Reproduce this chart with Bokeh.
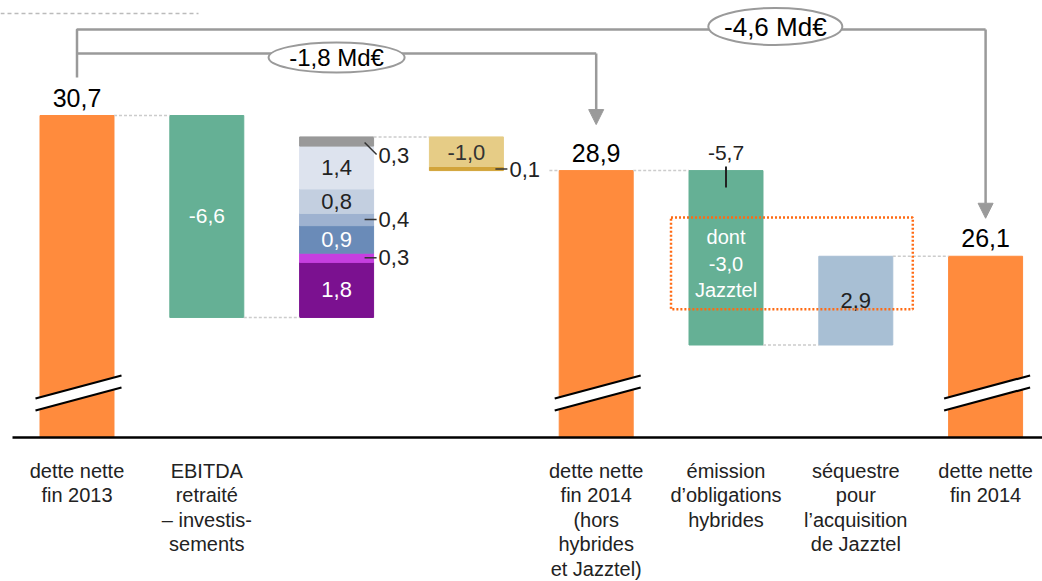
from bokeh.plotting import figure
from bokeh.models import Range1d, Arrow, NormalHead
from bokeh.core.properties import value
from bokeh.embed import file_html
from bokeh.resources import INLINE

# ---------------- data ----------------
categories = [
    "dette nette\nfin 2013",
    "EBITDA\nretraité\n– investis-\nsements",
    "",
    "",
    "dette nette\nfin 2014\n(hors\nhybrides\net Jazztel)",
    "émission\nd’obligations\nhybrides",
    "séquestre\npour\nl’acquisition\nde Jazztel",
    "dette nette\nfin 2014",
]
debt_2013 = 30.7
ebitda_capex = -6.6
other_items = [1.8, 0.3, 0.9, 0.4, 0.8, 1.4, 0.3]          # stacked, bottom to top
misc_items = [-1.0, -0.1]
debt_2014_excl = 28.9
hybrid_issue = -5.7
jazztel_part = -3.0
escrow = 2.9
debt_2014 = 26.1
bridge_changes = [-1.8, -4.6]

# ---------------- style ----------------
FONT = value("Liberation Sans")
ORANGE = "#FF8B3D"
GREEN = "#65B095"
STACK_COLORS = ["#7B1190", "#C63FE0", "#6A8BB8", "#9EB2D0", "#C3CFE0", "#DDE3EE", "#999999"]
STACK_TEXT = ["white", None, "white", None, "#222222", "#222222", None]
YELLOW = "#E6CC86"
GOLD = "#D2A43A"
BLUE = "#A8BFD4"
GRAY = "#9A9A9A"
DOT = "#CCCCCC"
W = 0.57

PXX, PXY = 129.8, 30.6
def dx(px): return px / PXX
def dy(px): return px / PXY

X0 = -76.5 / PXX
Y_TOP = debt_2013 + dy(115)
BASE = debt_2013 - dy(322)

def fmt(v):
    return f"{v:.1f}".replace(".", ",")

p = figure(width=1042, height=581, output_backend="svg", toolbar_location=None,
           x_range=Range1d(X0, X0 + dx(1042)), y_range=Range1d(Y_TOP - dy(581), Y_TOP),
           min_border=0, outline_line_color=None)
p.axis.visible = False
p.grid.visible = False

def txt(x, y, t, size, color="#222222", align="center"):
    p.text(x=[x], y=[y], text=[t], text_font=FONT, text_font_size=f"{size}px",
           text_color=color, text_align=align, text_baseline="middle")

# ---------------- bars ----------------
tot_x = [0, 4, 7]
tot_v = [debt_2013, debt_2014_excl, debt_2014]
p.vbar(x=tot_x, width=W, top=tot_v, bottom=BASE, color=ORANGE)

ebitda_bottom = round(debt_2013 + ebitda_capex, 2)
p.vbar(x=[1], width=W, top=[debt_2013], bottom=[ebitda_bottom], color=GREEN)

stack_b, stack_t = [], []
lvl = ebitda_bottom
for v in other_items:
    stack_b.append(lvl)
    lvl = round(lvl + v, 2)
    stack_t.append(lvl)
p.vbar(x=[2] * len(other_items), width=W, top=stack_t, bottom=stack_b, color=STACK_COLORS)
stack_top = lvl

misc_levels = [stack_top]
for v in misc_items:
    misc_levels.append(round(misc_levels[-1] + v, 2))
p.vbar(x=[3, 3], width=W, top=misc_levels[:-1], bottom=misc_levels[1:], color=[YELLOW, GOLD])

hyb_bottom = round(debt_2014_excl + hybrid_issue, 2)
p.vbar(x=[5], width=W, top=[debt_2014_excl], bottom=[hyb_bottom], color=GREEN)
p.vbar(x=[6], width=W, top=[round(hyb_bottom + escrow, 2)], bottom=[hyb_bottom], color=BLUE)

# axis break marks
for x in tot_x:
    xl, xr = x - dx(41.5), x + dx(44.5)
    ul, ur, ll, lr = BASE + dy(39), BASE + dy(62), BASE + dy(27), BASE + dy(50)
    p.patch(x=[xl, xr, xr, xl], y=[ul, ur, lr, ll], fill_color="white", line_color=None)
    p.line(x=[xl, xr], y=[ul, ur], line_color="black", line_width=2.2)
    p.line(x=[xl, xr], y=[ll, lr], line_color="black", line_width=2.2)

# baseline
p.line(x=[X0 + dx(12), X0 + dx(1042)], y=[BASE, BASE], line_color="black", line_width=2.5)

# connectors
conns = [
    (0 + W / 2, 1 - W / 2, debt_2013),
    (1 + W / 2, 2 - W / 2, ebitda_bottom),
    (2 + W / 2, 3 - W / 2, stack_top),
    (3 + W / 2 + dx(46), 4 - W / 2, debt_2014_excl),
    (4 + W / 2, 5 - W / 2, debt_2014_excl),
    (5 + W / 2, 6 - W / 2, hyb_bottom),
    (6 + W / 2, 7 - W / 2, debt_2014),
]
for a, b, y in conns:
    p.line(x=[a, b], y=[y, y], line_color=DOT, line_width=1.5, line_dash="3 2")

# ---------------- labels ----------------
for x, v in zip(tot_x, tot_v):
    txt(x, v + dy(18), fmt(v), 25, "black")

txt(1, (debt_2013 + ebitda_bottom) / 2, fmt(ebitda_capex), 21, "white")

xr2 = 2 + W / 2
for v, b, t, c in zip(other_items, stack_b, stack_t, STACK_TEXT):
    mid = (b + t) / 2
    if c is not None:
        txt(2, mid, fmt(v), 22, c)
for i in (1, 3):
    mid = (stack_b[i] + stack_t[i]) / 2
    p.line(x=[xr2 - dx(9), xr2 + dx(3)], y=[mid, mid], line_color="#333333", line_width=1.5)
    txt(xr2 + dx(5), mid, fmt(other_items[i]), 22, "#222222", "left")
mid = (stack_b[6] + stack_t[6]) / 2
p.line(x=[xr2 - dx(9), xr2 + dx(3)], y=[mid - dy(1), mid - dy(13)], line_color="#333333", line_width=1.5)
txt(xr2 + dx(5), mid - dy(14), fmt(other_items[6]), 22, "#222222", "left")

txt(3, (misc_levels[0] + misc_levels[1]) / 2, fmt(misc_items[0]), 22, "#333333")
xr3 = 3 + W / 2
m01 = (misc_levels[1] + misc_levels[2]) / 2
p.line(x=[xr3 - dx(8), xr3 + dx(4)], y=[m01, m01], line_color="#333333", line_width=1.5)
txt(xr3 + dx(6), m01, fmt(abs(misc_items[1])), 22, "#222222", "left")

txt(5, debt_2014_excl + dy(18), fmt(hybrid_issue), 21, "#222222")
p.line(x=[5, 5], y=[debt_2014_excl + dy(4), debt_2014_excl - dy(17)], line_color="#222222", line_width=2)

txt(6, hyb_bottom + escrow / 2, fmt(escrow), 22, "#222222")

# Jazztel highlight box
box_top = debt_2013 - dy(102)
box_bot = box_top + jazztel_part
bxl, bxr = 5 - W / 2 - dx(18), 6 + W / 2 + dx(20)
p.line(x=[bxl, bxr, bxr, bxl, bxl], y=[box_top, box_top, box_bot, box_bot, box_top],
       line_color="#FF6A13", line_width=2.5, line_dash="2 2")
bmid = (box_top + box_bot) / 2
for k, line in enumerate(["dont", fmt(jazztel_part), "Jazztel"]):
    txt(5, bmid + dy(26) - k * dy(26.5), line, 20, "white")

# category labels
for i, cat in enumerate(categories):
    for k, line in enumerate(cat.split("\n")):
        if line:
            txt(i, BASE - dy(33) - k * dy(24.6), line, 20, "#222222")

# ---------------- bridges ----------------
y_out = debt_2013 + dy(86)
y_in = debt_2013 + dy(62)
p.line(x=[0, 0, 7], y=[debt_2013 + dy(38), y_out, y_out], line_color=GRAY, line_width=2.5)
p.line(x=[0, 4], y=[y_in, y_in], line_color=GRAY, line_width=2.5)
p.add_layout(Arrow(end=NormalHead(size=15, fill_color=GRAY, line_color=GRAY),
                   x_start=4, y_start=y_in, x_end=4, y_end=debt_2014_excl + dy(46),
                   line_color=GRAY, line_width=2.5))
p.add_layout(Arrow(end=NormalHead(size=15, fill_color=GRAY, line_color=GRAY),
                   x_start=7, y_start=y_out, x_end=7, y_end=debt_2014 + dy(38),
                   line_color=GRAY, line_width=2.5))

ell_x = [2.0, 5.38]
ell_y = [debt_2013 + dy(58), debt_2013 + dy(89)]
p.ellipse(x=ell_x, y=ell_y, width=[136, 134], height=[30, 37],
          width_units="screen", height_units="screen",
          fill_color="white", line_color=GRAY, line_width=2)
txt(ell_x[0], ell_y[0], fmt(bridge_changes[0]) + " Md€", 24, "black")
txt(ell_x[1], ell_y[1], fmt(bridge_changes[1]) + " Md€", 26, "black")

# top-left decorative dashed rule
p.line(x=[X0, X0 + dx(198)], y=[debt_2013 + dy(102)] * 2, line_color="#BBBBBB",
       line_width=1.5, line_dash="4 3")

open("out.html", "w").write(file_html(p, INLINE))
